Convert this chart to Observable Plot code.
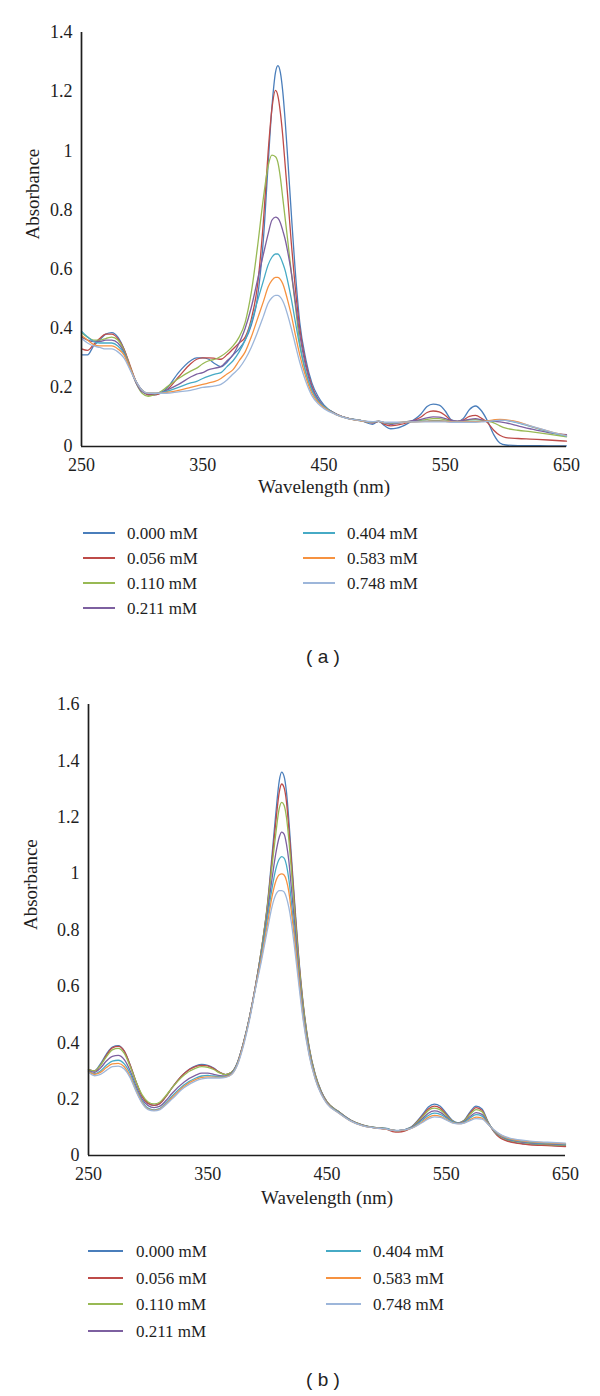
<!DOCTYPE html>
<html><head><meta charset="utf-8">
<script src="https://cdn.jsdelivr.net/npm/d3@7"></script>
<script src="https://cdn.jsdelivr.net/npm/@observablehq/plot@0.6"></script>
<style>
body{margin:0;background:#fff;}
#root{position:relative;width:600px;height:1396px;font-family:Liberation Serif, Times New Roman, Times, serif;color:#1e1e1e;overflow:hidden;}
.panel{position:absolute;left:0;}
.leg{position:absolute;font-family:Liberation Serif, Times New Roman, Times, serif;font-size:17px;line-height:17px;white-space:nowrap;transform:translateY(-50%);}
.sw{position:absolute;height:2px;}
.cap{position:absolute;font-family:Liberation Sans, Arial, sans-serif;font-size:19px;transform:translate(-50%,-50%);white-space:pre;color:#222;}
</style></head>
<body><div id="root"></div>
<script>
// ---------------- data ----------------
const wavelengths = [
  250,255,260,265,270,275,280,285,290,295,300,305,310,315,320,
  330,340,345,350,355,360,365,370,375,380,385,390,395,400,
  404,407,410,412,414,416,418,420,423,426,430,435,440,445,450,
  460,470,480,490,495,500,505,510,520,530,
  535,540,545,550,555,560,565,570,575,580,585,590,595,600,
  610,620,635,650];
const seriesLabels = ["0.000 mM","0.056 mM","0.110 mM","0.211 mM","0.404 mM","0.583 mM","0.748 mM"];
const seriesColors = ["#4A7EBB","#BE4B48","#98B954","#7D60A0","#46AAC5","#F69240","#9DB6DA"];
const xTicks = [250,350,450,550,650];
const yTicksA = [0,0.2,0.4,0.6,0.8,1,1.2,1.4];
const yTicksB = [0,0.2,0.4,0.6,0.8,1,1.2,1.4,1.6];

// panel (a)
const a_000 = [0.31,0.31,0.34,0.36,0.38,0.385,0.37,0.33,0.27,0.22,0.19,0.175,0.175,0.18,0.195,
  0.25,0.29,0.30,0.30,0.295,0.28,0.27,0.285,0.31,0.33,0.36,0.41,0.50,0.70,
  0.96,1.145,1.265,1.288,1.265,1.2,1.1,0.98,0.79,0.61,0.42,0.295,0.215,0.17,0.14,
  0.11,0.095,0.088,0.075,0.085,0.07,0.06,0.062,0.08,0.11,
  0.135,0.143,0.14,0.12,0.09,0.085,0.095,0.125,0.137,0.12,0.085,0.04,0.012,0.005,
  0.003,0.003,0.002,0.002];
const a_056 = [0.33,0.325,0.345,0.365,0.38,0.38,0.365,0.33,0.275,0.22,0.19,0.175,0.175,0.18,0.19,
  0.235,0.28,0.295,0.30,0.30,0.298,0.295,0.31,0.33,0.35,0.37,0.43,0.54,0.76,
  1.0,1.14,1.204,1.185,1.13,1.05,0.95,0.85,0.69,0.55,0.40,0.28,0.205,0.16,0.135,
  0.11,0.095,0.088,0.08,0.085,0.075,0.07,0.072,0.082,0.1,
  0.115,0.12,0.117,0.105,0.088,0.084,0.09,0.102,0.105,0.095,0.08,0.055,0.038,0.03,
  0.027,0.025,0.022,0.018];
const a_110 = [0.385,0.37,0.36,0.36,0.365,0.37,0.36,0.325,0.27,0.215,0.18,0.17,0.175,0.185,0.2,
  0.23,0.255,0.265,0.28,0.29,0.295,0.305,0.32,0.34,0.37,0.42,0.52,0.67,0.84,
  0.95,0.985,0.98,0.96,0.91,0.84,0.77,0.70,0.59,0.49,0.35,0.25,0.19,0.155,0.135,
  0.11,0.095,0.088,0.082,0.085,0.08,0.078,0.08,0.085,0.088,
  0.092,0.094,0.094,0.09,0.086,0.085,0.087,0.09,0.091,0.089,0.085,0.08,0.07,0.062,
  0.055,0.05,0.042,0.033];
const a_211 = [0.37,0.36,0.355,0.355,0.36,0.36,0.35,0.32,0.265,0.215,0.185,0.178,0.178,0.182,0.19,
  0.21,0.235,0.245,0.25,0.26,0.265,0.27,0.29,0.31,0.35,0.40,0.47,0.56,0.65,
  0.72,0.765,0.776,0.772,0.757,0.73,0.70,0.66,0.59,0.50,0.38,0.27,0.2,0.16,0.135,
  0.11,0.095,0.088,0.08,0.085,0.08,0.075,0.078,0.085,0.092,
  0.097,0.1,0.099,0.094,0.088,0.086,0.088,0.092,0.094,0.09,0.086,0.085,0.083,0.08,
  0.07,0.06,0.047,0.04];
const a_404 = [0.39,0.37,0.355,0.35,0.35,0.35,0.34,0.315,0.265,0.22,0.19,0.18,0.18,0.182,0.186,
  0.2,0.215,0.22,0.23,0.238,0.245,0.25,0.27,0.29,0.32,0.36,0.42,0.49,0.56,
  0.615,0.64,0.651,0.651,0.64,0.62,0.595,0.56,0.50,0.43,0.34,0.25,0.19,0.155,0.135,
  0.108,0.094,0.087,0.082,0.086,0.08,0.08,0.08,0.083,0.085,
  0.086,0.087,0.087,0.086,0.084,0.083,0.084,0.085,0.085,0.085,0.086,0.088,0.089,0.088,
  0.08,0.068,0.05,0.035];
const a_583 = [0.375,0.36,0.345,0.34,0.34,0.34,0.33,0.31,0.265,0.22,0.19,0.18,0.18,0.18,0.183,
  0.19,0.2,0.205,0.21,0.215,0.22,0.23,0.245,0.26,0.29,0.32,0.37,0.43,0.49,
  0.54,0.562,0.572,0.572,0.565,0.55,0.525,0.495,0.445,0.385,0.31,0.235,0.18,0.15,0.132,
  0.108,0.094,0.087,0.083,0.086,0.081,0.081,0.081,0.083,0.084,
  0.085,0.086,0.086,0.085,0.084,0.083,0.084,0.084,0.084,0.085,0.087,0.09,0.092,0.09,
  0.083,0.07,0.052,0.037];
const a_748 = [0.365,0.35,0.34,0.335,0.33,0.33,0.32,0.30,0.26,0.22,0.19,0.18,0.18,0.18,0.18,
  0.185,0.19,0.195,0.2,0.202,0.205,0.21,0.225,0.245,0.265,0.295,0.335,0.385,0.44,
  0.485,0.503,0.511,0.511,0.505,0.492,0.472,0.445,0.40,0.35,0.285,0.22,0.172,0.145,0.128,
  0.108,0.094,0.088,0.084,0.086,0.082,0.082,0.082,0.083,0.083,
  0.083,0.083,0.083,0.083,0.082,0.082,0.082,0.082,0.082,0.083,0.085,0.087,0.089,0.088,
  0.081,0.07,0.052,0.036];

// panel (b)
const b_000 = [0.305,0.30,0.325,0.36,0.385,0.39,0.37,0.32,0.26,0.21,0.185,0.178,0.185,0.21,0.24,
  0.29,0.318,0.323,0.32,0.31,0.295,0.287,0.295,0.33,0.40,0.49,0.60,0.73,0.89,
  1.07,1.21,1.33,1.36,1.345,1.29,1.19,1.07,0.89,0.72,0.54,0.385,0.29,0.23,0.19,
  0.155,0.125,0.108,0.1,0.098,0.096,0.09,0.088,0.1,0.145,
  0.172,0.182,0.175,0.15,0.125,0.116,0.125,0.155,0.175,0.165,0.12,0.085,0.065,0.055,
  0.045,0.04,0.037,0.033];
const b_056 = [0.305,0.30,0.32,0.355,0.382,0.387,0.37,0.32,0.26,0.21,0.185,0.178,0.185,0.21,0.24,
  0.29,0.316,0.32,0.318,0.308,0.295,0.287,0.295,0.33,0.40,0.49,0.60,0.73,0.885,
  1.05,1.18,1.29,1.318,1.305,1.255,1.16,1.05,0.875,0.71,0.535,0.382,0.288,0.228,0.19,
  0.155,0.125,0.108,0.098,0.095,0.093,0.085,0.083,0.097,0.14,
  0.165,0.175,0.168,0.145,0.122,0.115,0.123,0.15,0.17,0.16,0.118,0.085,0.063,0.053,
  0.043,0.038,0.035,0.032];
const b_110 = [0.305,0.30,0.32,0.35,0.375,0.38,0.362,0.315,0.26,0.215,0.19,0.183,0.19,0.213,0.24,
  0.285,0.31,0.315,0.313,0.305,0.293,0.287,0.295,0.33,0.40,0.49,0.60,0.73,0.88,
  1.03,1.14,1.232,1.253,1.243,1.2,1.12,1.02,0.855,0.70,0.53,0.38,0.287,0.228,0.19,
  0.155,0.125,0.108,0.1,0.098,0.095,0.09,0.088,0.098,0.137,
  0.16,0.168,0.162,0.142,0.122,0.116,0.123,0.146,0.163,0.155,0.118,0.087,0.068,0.058,
  0.048,0.043,0.039,0.036];
const b_211 = [0.3,0.295,0.31,0.335,0.352,0.355,0.34,0.3,0.245,0.2,0.177,0.17,0.175,0.195,0.22,
  0.26,0.285,0.292,0.292,0.288,0.283,0.282,0.292,0.33,0.40,0.49,0.60,0.72,0.86,
  0.985,1.07,1.13,1.147,1.14,1.105,1.045,0.955,0.815,0.67,0.51,0.37,0.28,0.225,0.188,
  0.153,0.124,0.107,0.099,0.097,0.094,0.09,0.088,0.097,0.13,
  0.15,0.158,0.153,0.137,0.12,0.115,0.12,0.138,0.152,0.146,0.115,0.088,0.07,0.06,
  0.05,0.045,0.041,0.038];
const b_404 = [0.3,0.29,0.3,0.32,0.335,0.338,0.325,0.29,0.237,0.193,0.168,0.162,0.167,0.187,0.21,
  0.25,0.275,0.282,0.284,0.282,0.28,0.281,0.29,0.328,0.398,0.488,0.595,0.71,0.84,
  0.95,1.015,1.052,1.06,1.055,1.03,0.98,0.905,0.78,0.65,0.50,0.365,0.277,0.222,0.186,
  0.152,0.123,0.106,0.098,0.096,0.094,0.09,0.088,0.096,0.125,
  0.142,0.15,0.146,0.133,0.119,0.114,0.118,0.133,0.145,0.14,0.113,0.089,0.072,0.062,
  0.052,0.047,0.043,0.04];
const b_583 = [0.298,0.288,0.295,0.312,0.325,0.327,0.315,0.28,0.23,0.188,0.165,0.16,0.165,0.183,0.205,
  0.245,0.27,0.277,0.279,0.278,0.277,0.279,0.288,0.325,0.395,0.485,0.595,0.70,0.82,
  0.92,0.972,0.996,0.999,0.995,0.975,0.935,0.87,0.76,0.64,0.49,0.36,0.275,0.22,0.185,
  0.15,0.122,0.105,0.098,0.096,0.093,0.09,0.088,0.095,0.12,
  0.135,0.142,0.139,0.128,0.117,0.113,0.116,0.127,0.136,0.133,0.112,0.09,0.074,0.064,
  0.054,0.049,0.045,0.042];
const b_748 = [0.295,0.283,0.288,0.302,0.315,0.317,0.307,0.275,0.226,0.185,0.163,0.158,0.163,0.18,0.2,
  0.24,0.265,0.272,0.275,0.275,0.275,0.277,0.287,0.322,0.39,0.48,0.59,0.69,0.80,
  0.885,0.925,0.94,0.94,0.935,0.915,0.88,0.83,0.73,0.62,0.48,0.355,0.272,0.218,0.183,
  0.15,0.122,0.105,0.098,0.096,0.094,0.09,0.089,0.095,0.117,
  0.13,0.137,0.135,0.126,0.116,0.112,0.115,0.124,0.131,0.129,0.111,0.091,0.076,0.066,
  0.056,0.051,0.047,0.044];

const seriesA = [a_000,a_056,a_110,a_211,a_404,a_583,a_748];
const seriesB = [b_000,b_056,b_110,b_211,b_404,b_583,b_748];

// ---------------- build ----------------
function toRows(series){
  const rows = [];
  series.forEach((vals, k) => {
    if (vals.length !== wavelengths.length) throw new Error("length mismatch " + k + ": " + vals.length);
    vals.forEach((v, i) => rows.push({w: wavelengths[i], a: v, s: seriesLabels[k]}));
  });
  return rows;
}
const fmt = d => String(+d.toFixed(1));
const serif = "Liberation Serif, Times New Roman, Times, serif";

function makePanel(cfg){
  return Plot.plot({
    width: 600, height: cfg.height,
    marginLeft: cfg.ml, marginRight: cfg.mr, marginTop: cfg.mt, marginBottom: cfg.mb,
    style: {fontFamily: serif, fontSize: "18px", color: "#1e1e1e", background: "transparent"},
    x: {domain: [250, 650]},
    y: {domain: [0, cfg.ymax]},
    color: {domain: seriesLabels, range: seriesColors},
    marks: [
      Plot.axisX({ticks: xTicks, tickSize: 0, tickPadding: 12, tickFormat: d => String(d), label: null, fontSize: 18, fontFamily: serif}),
      Plot.axisY({ticks: cfg.yTicks, tickSize: 0, tickPadding: 9, tickFormat: fmt, label: null, fontSize: 18, fontFamily: serif}),
      Plot.line(toRows(cfg.series), {x: "w", y: "a", z: "s", stroke: "s", strokeWidth: 1.3, curve: "monotone-x"}),
      Plot.ruleY([0], {stroke: "#1e1e1e", strokeWidth: 1.7}),
      Plot.ruleX([250], {stroke: "#1e1e1e", strokeWidth: 1.7}),
      Plot.text(["Wavelength (nm)"], {text: d => d, frameAnchor: "bottom", dy: cfg.xlabDy, fontSize: 19, fontFamily: serif, fill: "#1e1e1e"}),
      Plot.text(["Absorbance"], {text: d => d, frameAnchor: "left", dx: cfg.ylabDx, rotate: -90, fontSize: 19, fontFamily: serif, fill: "#1e1e1e"})
    ]
  });
}

const root = document.getElementById("root");
function place(el, top){ el.classList.add("panel"); el.style.top = top + "px"; root.appendChild(el); }

place(makePanel({height: 510, ml: 81, mr: 34, mt: 32, mb: 64, ymax: 1.4, yTicks: yTicksA, series: seriesA, xlabDy: 46, ylabDx: -49}), 0);
place(makePanel({height: 540, ml: 88, mr: 35, mt: 24, mb: 65, ymax: 1.6, yTicks: yTicksB, series: seriesB, xlabDy: 48, ylabDx: -58}), 680);

function legend(cfg){
  seriesLabels.forEach((lab, k) => {
    const col = k < 4 ? 0 : 1;
    const row = k < 4 ? k : k - 4;
    const y = cfg.y0 + row * cfg.dy;
    const sw = document.createElement("div");
    sw.className = "sw";
    sw.style.left = cfg.lineX[col] + "px";
    sw.style.width = cfg.lineW + "px";
    sw.style.top = (y - 1) + "px";
    sw.style.background = seriesColors[k];
    root.appendChild(sw);
    const t = document.createElement("div");
    t.className = "leg";
    t.style.left = cfg.textX[col] + "px";
    t.style.top = y + "px";
    t.textContent = lab;
    root.appendChild(t);
  });
  const c = document.createElement("div");
  c.className = "cap";
  c.style.left = cfg.capX + "px";
  c.style.top = cfg.capY + "px";
  c.textContent = cfg.cap;
  root.appendChild(c);
}
legend({y0: 533, dy: 25, lineX: [83, 303], lineW: 32, textX: [127, 347], capX: 323, capY: 657, cap: "( a )"});
legend({y0: 1251, dy: 26.7, lineX: [88, 326], lineW: 35, textX: [136, 373], capX: 323, capY: 1380, cap: "( b )"});
</script>
</body></html>
